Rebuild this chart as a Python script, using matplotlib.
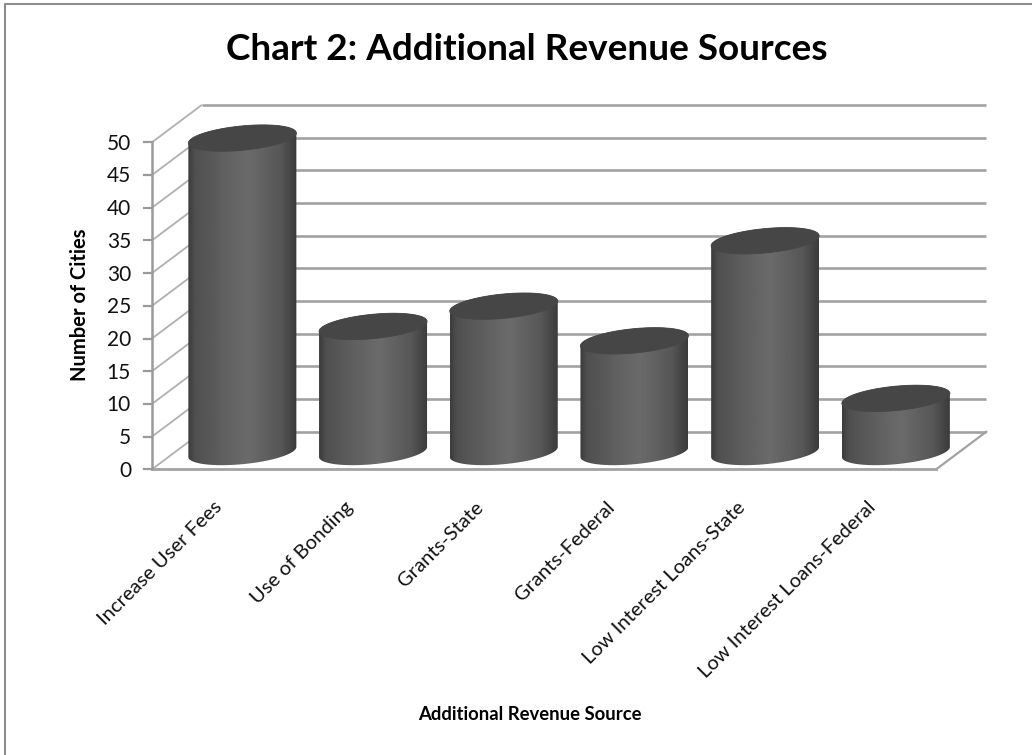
import numpy as np
import matplotlib
matplotlib.use('Agg')
import matplotlib.pyplot as plt
from matplotlib.patches import Polygon

categories = ['Increase User Fees', 'Use of Bonding', 'Grants-State', 'Grants-Federal',
              'Low Interest Loans-State', 'Low Interest Loans-Federal']
values = [48, 19.2, 22.3, 17, 32.3, 8.2]
y_ticks = [0, 5, 10, 15, 20, 25, 30, 35, 40, 45, 50]

# gradient across a cylinder, left to right
shade_pos = [0, 0.06, 0.3, 0.55, 0.85, 1]
shade_val = [0.23, 0.31, 0.37, 0.42, 0.34, 0.23]

W, H = 1032, 755
plt.rcParams['font.family'] = ['Lato', 'DejaVu Sans']

fig = plt.figure(figsize=(W / 100, H / 100), dpi=100)
ax = fig.add_axes([0, 0, 1, 1])

# one x unit is a category, one y unit is a city
px_x, px_y = 130.7, 6.54
x0, y0 = 152, 469.3
ax.set_xlim(-x0 / px_x, (W - x0) / px_x)
ax.set_ylim(-(H - y0) / px_y, y0 / px_y)
ax.axis('off')

# depth of the floor, in data units
dx, dy = 50 / px_x, 37.5 / px_y
n = len(categories)
grid_c = '#a2a2a2'
axis_c = '#9a9a9a'

# outer frame
ax.plot((np.array([5, 5, W + 5]) - x0) / px_x,
        (y0 - np.array([H + 5, 4, 4])) / px_y, color='#8c8c8c', lw=1.5)

# back wall gridlines and the slanted ones on the side wall
for t in y_ticks:
    ax.plot([dx, n + dx], [t + dy, t + dy], color=grid_c, lw=1.9, solid_capstyle='butt')
    ax.plot([0, dx], [t, t + dy], color='#b0b0b0', lw=1.3, solid_capstyle='butt')
ax.plot([n, n + dx], [0, dy], color=grid_c, lw=1.6)

# front axes and ticks
ax.plot([0, 0], [0, 50], color=axis_c, lw=1.8)
ax.plot([0, n], [0, 0], color=grid_c, lw=2)
for t in y_ticks:
    ax.plot([-8 / px_x, 0], [t, t], color=axis_c, lw=1.6)
    ax.text(-21 / px_x, t - 1.5 / px_y, str(t), ha='right', va='center', fontsize=15, color='#111111')


def ellipse(cx, cy, t):
    # tilted ellipse that stands for a disc seen from above
    rx, ry = 54 / px_x, 12.2 / px_y
    lean = 5 / px_y
    return cx + rx * np.cos(t), cy + ry * np.sin(t) + lean * np.cos(t)


grad = np.interp(np.linspace(0, 1, 256), shade_pos, shade_val)
grad = np.tile(grad, (2, 1))

for i, v in enumerate(values):
    cx = i + 0.5 + dx / 2
    cy = 17.3 / px_y
    # lower half of the base, then up and across the top
    bx, by = ellipse(cx, cy, np.linspace(np.pi, 2 * np.pi, 60))
    tx, ty = ellipse(cx, cy + v, np.linspace(0, np.pi, 60))
    body = Polygon(np.column_stack([np.r_[bx, tx], np.r_[by, ty]]), closed=True,
                   fc='none', ec='none', zorder=3)
    ax.add_patch(body)
    im = ax.imshow(grad, extent=[cx - 54 / px_x, cx + 54 / px_x, cy - 20 / px_y, cy + v + 20 / px_y],
                   cmap='gray', vmin=0, vmax=1, aspect='auto', zorder=3, interpolation='bilinear')
    im.set_clip_path(body)
    tx, ty = ellipse(cx, cy + v, np.linspace(0, 2 * np.pi, 120))
    ax.add_patch(Polygon(np.column_stack([tx, ty]), closed=True, fc='#464646', ec='#464646', lw=0.6, zorder=4))

ax.set_xlim(-x0 / px_x, (W - x0) / px_x)
ax.set_ylim(-(H - y0) / px_y, y0 / px_y)

# category labels, right end anchored below each bar
for i, c in enumerate(categories):
    ax.text(i + 0.5 - 4 / px_x, -29 / px_y, c, rotation=45, rotation_mode='anchor',
            ha='right', va='top', fontsize=14.5, color='#111111')

ax.text((80 - x0) / px_x, (y0 - 305) / px_y, 'Number of Cities', rotation=90, ha='center', va='center',
        fontsize=14.5, fontweight='bold', color='black')
ax.text((530 - x0) / px_x, (y0 - 714) / px_y, 'Additional Revenue Source', ha='center', va='center',
        fontsize=13.3, fontweight='bold', color='black')
ax.text((527 - x0) / px_x, (y0 - 50) / px_y, 'Chart 2: Additional Revenue Sources', ha='center', va='center',
        fontsize=26.6, fontweight='bold', color='black')

fig.savefig('out.png', dpi=100)
